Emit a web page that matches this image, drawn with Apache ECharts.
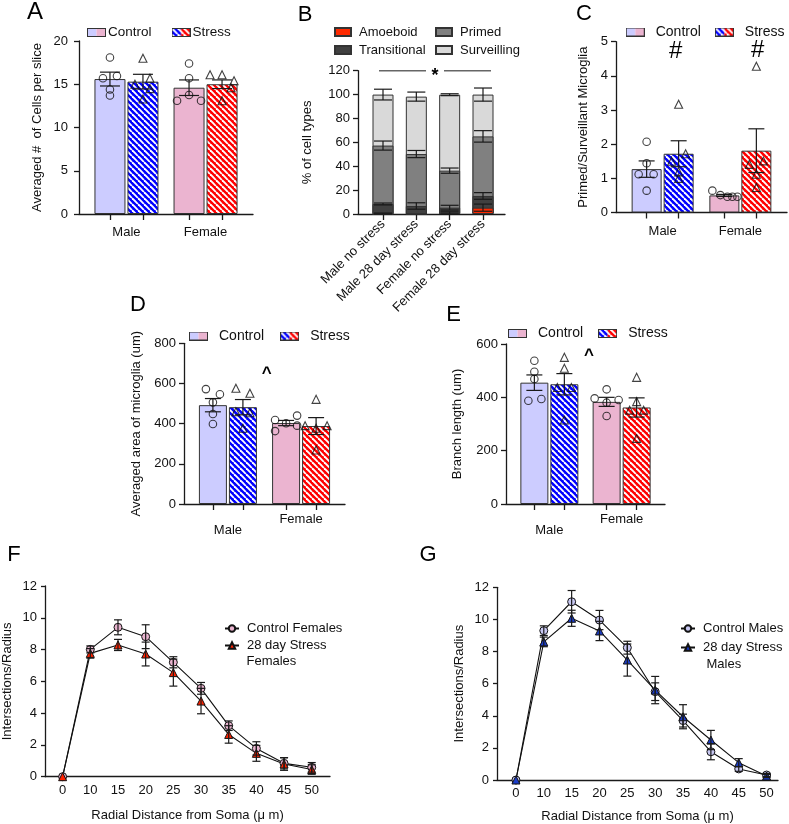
<!DOCTYPE html>
<html><head><meta charset="utf-8">
<script src="https://cdn.jsdelivr.net/npm/echarts@6/dist/echarts.min.js"></script>
<style>html,body{margin:0;padding:0;background:#fff}#c{width:789px;height:824px}</style>
</head><body><div id="c"></div>
<script>
// ================= DATA =================
const groups = ['Male', 'Female'];
// Panel A – Averaged # of cells per slice
const aCtrlMean = [15.6, 14.6];
const aStrMean = [15.3, 15.0];
const aCtrlSem = [0.8, 0.9];
const aStrSem = [0.85, 0.5];
const aCtrlPts = [[18.1, 15.7, 15.95, 14.4, 13.7], [17.4, 15.7, 13.75, 13.1, 13.1]];
const aStrPts = [[18.0, 15.0, 15.7, 14.5, 13.3], [16.1, 16.1, 15.4, 14.6, 13.1]];
// Panel B – % of cell types
const bCats = ['Male no stress', 'Male 28 day stress', 'Female no stress', 'Female 28 day stress'];
const bAmoeboid = [0, 0, 0.8, 5.3];
const bTransitional = [8.4, 6.7, 4.5, 9.8];
const bPrimed = [48.9, 43.5, 31.0, 49.9];
const bSurveilling = [42.7, 48.1, 63.6, 35.0];
const bAmoeboidSem = [0.8, 0, 1.0, 3.0];
const bTransitionalSem = [0.8, 2.7, 2.0, 2.8];
const bPrimedSem = [3.8, 3.0, 2.2, 4.8];
const bSurveillingSem = [4.5, 3.8, 0.8, 5.5];
const bSigLevel = 120;   // significance bar drawn at this % level
// Panel C – Primed/Surveillant
const cCtrlMean = [1.27, 0.5];
const cStrMean = [1.72, 1.81];
const cCtrlSem = [0.24, 0.03];
const cStrSem = [0.38, 0.64];
const cCtrlPts = [[2.07, 1.44, 1.12, 1.12, 0.64], [0.64, 0.51, 0.46, 0.46, 0.46]];
const cStrPts = [[3.17, 1.72, 1.5, 1.19, 1.0], [4.28, 1.41, 1.51, 1.12, 0.73]];
// Panel D – Averaged area of microglia
const dCtrlMean = [492, 403];
const dStrMean = [482, 388];
const dCtrlSem = [33, 13];
const dStrSem = [38, 42];
const dCtrlPts = [[572, 546, 506, 448, 398], [418, 402, 440, 390, 363]];
const dStrPts = [[576, 551, 459, 454, 377], [521, 390, 377, 390, 269]];
// Panel E – Branch length
const eCtrlMean = [455, 383];
const eStrMean = [449, 362];
const eCtrlSem = [29, 17];
const eStrSem = [40, 36];
const eCtrlPts = [[537, 496, 469, 387, 394], [430, 396, 390, 380, 330]];
const eStrPts = [[550, 509, 437, 437, 315], [475, 384, 352, 352, 246]];
// Panels F & G – Sholl analysis
const radialTicks = ['0', '10', '15', '20', '25', '30', '35', '40', '45', '50'];
const fCtrl = [0, 8.01, 9.40, 8.81, 7.20, 5.56, 3.21, 1.78, 0.84, 0.59];
const fCtrlSem = [0, 0.22, 0.47, 0.75, 0.35, 0.37, 0.3, 0.42, 0.35, 0.3];
const fStr = [0, 7.76, 8.29, 7.72, 6.55, 4.76, 2.66, 1.47, 0.80, 0.45];
const fStrSem = [0, 0.3, 0.35, 0.75, 0.85, 0.8, 0.55, 0.5, 0.4, 0.3];
const gCtrl = [0, 9.3, 11.1, 9.96, 8.24, 5.5, 3.7, 1.76, 0.69, 0.31];
const gCtrlSem = [0, 0.3, 0.7, 0.6, 0.4, 0.55, 0.4, 0.5, 0.15, 0.1];
const gStr = [0, 8.6, 10.07, 9.28, 7.47, 5.6, 3.94, 2.49, 1.08, 0.25];
const gStrSem = [0, 0.3, 0.5, 0.6, 1.0, 0.85, 0.75, 0.6, 0.25, 0.1];

// ================= STYLE / LAYOUT =================
const FONT = '"Liberation Sans", Arial, Helvetica, sans-serif';
const INK = '#1a1a1a';
const LAV = '#ccccff', PINK = '#ebb4d0', BLUE = '#0000ff', RED = '#ff0000';
const TXT = { color: '#111', fontFamily: FONT, fontSize: 13 };

function stripeTile(color) {
  const c = document.createElement('canvas'); c.width = 6; c.height = 6;
  const g = c.getContext('2d'); g.fillStyle = color; g.fillRect(0, 0, 6, 6);
  g.strokeStyle = '#fff'; g.lineWidth = 1.9;
  for (const k of [-6, 0, 6]) { g.beginPath(); g.moveTo(k, 0); g.lineTo(k + 6, 6); g.stroke(); }
  return c;
}
const blueTile = stripeTile(BLUE), redTile = stripeTile(RED);
function swatch(left, right) {
  const c = document.createElement('canvas'); c.width = 19; c.height = 9;
  const g = c.getContext('2d');
  const fill = f => (typeof f === 'string' ? f : g.createPattern(f, 'repeat'));
  g.fillStyle = fill(left); g.fillRect(0, 0, 9.5, 9);
  g.fillStyle = fill(right); g.fillRect(9.5, 0, 9.5, 9);
  g.strokeStyle = '#333'; g.lineWidth = 1; g.strokeRect(0.5, 0.5, 18, 8);
  return 'image://' + c.toDataURL();
}
const ctrlIcon = swatch(LAV, PINK);
const strIcon = swatch(blueTile, redTile);

const option = {
  animation: false, backgroundColor: '#fff', textStyle: { fontFamily: FONT },
  grid: [], xAxis: [], yAxis: [], series: [], legend: [], graphic: []
};

function yAxisCfg(gi, max, interval, name, nameGap, margin, tickLen) {
  return {
    type: 'value', gridIndex: gi, min: 0, max: max, interval: interval,
    name: name, nameLocation: 'middle', nameGap: nameGap, nameTextStyle: TXT,
    axisLine: { show: true, onZero: false, lineStyle: { color: INK, width: 1.3 } },
    axisTick: { show: true, length: tickLen, lineStyle: { color: INK, width: 1.3 } },
    axisLabel: Object.assign({ margin: margin }, TXT),
    splitLine: { show: false }
  };
}

function errorSeries(gi, rows, capPx, z) {
  return {
    type: 'custom', xAxisIndex: gi, yAxisIndex: gi, z: z, silent: true, clip: false,
    data: rows.filter(r => r[2] > 0),
    renderItem(params, api) {
      const x = api.value(0), m = api.value(1), s = api.value(2);
      const pT = api.coord([x, m + s]), pB = api.coord([x, Math.max(m - s, 0)]);
      const h = capPx / 2, st = { stroke: INK, lineWidth: 1.2, fill: null };
      return { type: 'group', children: [
        { type: 'line', shape: { x1: pT[0], y1: pT[1], x2: pB[0], y2: pB[1] }, style: st },
        { type: 'line', shape: { x1: pT[0] - h, y1: pT[1], x2: pT[0] + h, y2: pT[1] }, style: st },
        { type: 'line', shape: { x1: pB[0] - h, y1: pB[1], x2: pB[0] + h, y2: pB[1] }, style: st }
      ] };
    }
  };
}

function addBarPanel(p) {
  const gi = option.grid.length;
  option.grid.push({ left: p.left, top: p.top, width: p.width, height: p.height });
  const xMin = -0.6, xMax = 1.6;
  const pxX = p.width / (xMax - xMin);
  const d = (p.barW + p.gap) / 2 / pxX;
  option.xAxis.push({
    type: 'value', gridIndex: gi, min: xMin, max: xMax, splitLine: { show: false },
    axisLine: { onZero: false, lineStyle: { color: INK, width: 1.3 } },
    axisTick: { show: true, customValues: [-d, d, 1 - d, 1 + d], length: 6, lineStyle: { color: INK, width: 1.3 } },
    axisLabel: Object.assign({
      customValues: [0, 1], margin: p.xMargin,
      formatter: v => (Math.round(v) === 0 && p.maleLow ? '{m|' + groups[0] + '}' : groups[Math.round(v)]),
      rich: { m: { lineHeight: 34, fontSize: 13, fontFamily: FONT, color: '#111' } }
    }, TXT)
  });
  option.yAxis.push(yAxisCfg(gi, p.yMax, p.yInterval, p.yName, p.nameGap, p.yMargin, 5));
  const border = { borderColor: '#333', borderWidth: 1 };
  option.series.push({
    type: 'bar', name: 'Control', xAxisIndex: gi, yAxisIndex: gi, barWidth: p.barW,
    barGap: (p.gap / p.barW * 100) + '%', z: 2, itemStyle: border,
    data: p.ctrlMean.map((v, i) => ({ value: [i, v], itemStyle: { color: i ? PINK : LAV } }))
  });
  option.series.push({
    type: 'bar', name: 'Stress', xAxisIndex: gi, yAxisIndex: gi, barWidth: p.barW,
    barGap: (p.gap / p.barW * 100) + '%', z: 2, itemStyle: border,
    data: p.strMean.map((v, i) => ({ value: [i, v], itemStyle: { color: { image: i ? redTile : blueTile, repeat: 'repeat' } } }))
  });
  const err = [];
  p.ctrlMean.forEach((v, i) => err.push([i - d, v, p.ctrlSem[i]]));
  p.strMean.forEach((v, i) => err.push([i + d, v, p.strSem[i]]));
  option.series.push(errorSeries(gi, err, p.cap, 4));
  const mk = (pts, jit, off, sym, size) => {
    const data = [];
    pts.forEach((arr, i) => arr.forEach((v, k) => data.push([i + off + jit[i][k] / pxX, v])));
    option.series.push({
      type: 'scatter', xAxisIndex: gi, yAxisIndex: gi, symbol: sym, symbolSize: size, z: 5, silent: true,
      itemStyle: { color: 'rgba(255,255,255,0)', borderColor: '#111', borderWidth: 1.1 }, data: data
    });
  };
  mk(p.ctrlPts, p.ctrlJit, -d, 'circle', 7.5);
  mk(p.strPts, p.strJit, d, 'triangle', 8);
  option.legend.push({
    left: p.legLeft, top: p.legTop, padding: 0, itemWidth: 19, itemHeight: 9, itemGap: p.legGap,
    selectedMode: false,
    textStyle: { color: '#111', fontFamily: FONT, fontSize: p.legFont, padding: [0, 0, 0, p.legPad] },
    data: [{ name: 'Control', icon: ctrlIcon }, { name: 'Stress', icon: strIcon }]
  });
}

// A
addBarPanel({ left: 79, top: 41, width: 174, height: 173, yMax: 20, yInterval: 5,
  yName: 'Averaged #  of Cells per slice', nameGap: 35, yMargin: 11, xMargin: 12,
  barW: 31, gap: 2, cap: 20,
  ctrlMean: aCtrlMean, strMean: aStrMean, ctrlSem: aCtrlSem, strSem: aStrSem,
  ctrlPts: aCtrlPts, strPts: aStrPts,
  ctrlJit: [[0, -7, 7, 0, 0], [0, 0, 0, -12, 12]], strJit: [[0, -8, 7, 7, 0], [-12, 0, 12, 9, 0]],
  legLeft: 87, legTop: 25.5, legGap: 20, legFont: 13.5, legPad: -3 });

// B (stacked: cumulative columns overlapped, drawn top segment first)
(function () {
  const gi = option.grid.length;
  const L = { left: 358, top: 70.7, width: 147, height: 143.3, xMin: -0.75, xMax: 3.66 };
  option.grid.push({ left: L.left, top: L.top, width: L.width, height: L.height });
  option.xAxis.push({
    type: 'value', gridIndex: gi, min: L.xMin, max: L.xMax, splitLine: { show: false },
    axisLine: { onZero: false, lineStyle: { color: INK, width: 1.3 } },
    axisTick: { show: true, customValues: [0, 1, 2, 3], length: 6, lineStyle: { color: INK, width: 1.3 } },
    axisLabel: Object.assign({ customValues: [0, 1, 2, 3], rotate: 45, margin: 8,
      formatter: v => bCats[Math.round(v)] }, TXT)
  });
  option.yAxis.push(yAxisCfg(gi, 120, 20, '% of cell types', 44, 8, 5));
  const segs = [
    ['Amoeboid', bAmoeboid, bAmoeboidSem, '#ff2a00'],
    ['Transitional', bTransitional, bTransitionalSem, '#404040'],
    ['Primed', bPrimed, bPrimedSem, '#808080'],
    ['Surveilling', bSurveilling, bSurveillingSem, '#d9d9d9']
  ];
  const cum = [0, 0, 0, 0];
  const err = [];
  const cumBySeg = segs.map(s => s[1].map((v, i) => { cum[i] += v; err.push([i, cum[i], s[2][i]]); return cum[i]; }));
  for (let si = segs.length - 1; si >= 0; si--) {
    const s = segs[si];
    option.series.push({
      type: 'bar', name: s[0], xAxisIndex: gi, yAxisIndex: gi, barWidth: 21, barGap: '-100%', z: 2,
      itemStyle: { color: s[3], borderColor: '#333', borderWidth: 1 },
      data: cumBySeg[si].map((v, i) => [i, v])
    });
  }
  option.series.push(errorSeries(gi, err, 18, 4));
  // significance bracket: two segments at bSigLevel, split around the "*"
  option.series.push({
    type: 'custom', xAxisIndex: gi, yAxisIndex: gi, z: 4, silent: true, clip: false,
    data: [[-0.12, bSigLevel, 1.29], [1.83, bSigLevel, 3.24]],
    renderItem(params, api) {
      const a = api.coord([api.value(0), api.value(1)]), b = api.coord([api.value(2), api.value(1)]);
      return { type: 'line', shape: { x1: a[0], y1: a[1], x2: b[0], y2: b[1] }, style: { stroke: '#666', lineWidth: 1.5 } };
    }
  });
  const lg = { padding: 0, orient: 'vertical', itemWidth: 16, itemHeight: 8, itemGap: 5, selectedMode: false,
    icon: 'rect', textStyle: { color: '#111', fontFamily: FONT, fontSize: 13, padding: [0, 0, 0, 3] } };
  option.legend.push(Object.assign({ left: 334, top: 25.5, data: ['Amoeboid', 'Transitional'] }, lg));
  option.legend.push(Object.assign({ left: 435, top: 25.5, data: ['Primed', 'Surveilling'] }, lg));
})();

// C
addBarPanel({ left: 616, top: 41.7, width: 171, height: 170.8, yMax: 5, yInterval: 1,
  yName: 'Primed/Surveillant Microglia', nameGap: 26, yMargin: 8, xMargin: 12,
  barW: 30, gap: 2, cap: 16,
  ctrlMean: cCtrlMean, strMean: cStrMean, ctrlSem: cCtrlSem, strSem: cStrSem,
  ctrlPts: cCtrlPts, strPts: cStrPts,
  ctrlJit: [[0, 0, -8, 7, 0], [-12, -4, 3, 8, 13]], strJit: [[0, 7, -7, 0, 0], [0, -7, 7, 0, 0]],
  legLeft: 625.7, legTop: 25, legGap: 14, legFont: 14, legPad: 6 });

// D
addBarPanel({ left: 184, top: 343.3, width: 161, height: 160.7, yMax: 800, yInterval: 200,
  yName: 'Averaged area of microglia (um)', nameGap: 41, yMargin: 8, xMargin: 9, maleLow: true,
  barW: 28, gap: 2, cap: 16,
  ctrlMean: dCtrlMean, strMean: dStrMean, ctrlSem: dCtrlSem, strSem: dStrSem,
  ctrlPts: dCtrlPts, strPts: dStrPts,
  ctrlJit: [[-7, 7, 0, 0, 0], [-11, 0, 11, 11, -11]], strJit: [[-7, 7, -7, 7, 0], [0, -11, 0, 11, 0]],
  legLeft: 189, legTop: 329, legGap: 16, legFont: 14, legPad: 6 });

// E
addBarPanel({ left: 506, top: 344, width: 159, height: 160, yMax: 600, yInterval: 200,
  yName: 'Branch length (um)', nameGap: 42, yMargin: 8, xMargin: 9, maleLow: true,
  barW: 28, gap: 2, cap: 16,
  ctrlMean: eCtrlMean, strMean: eStrMean, ctrlSem: eCtrlSem, strSem: eStrSem,
  ctrlPts: eCtrlPts, strPts: eStrPts,
  ctrlJit: [[0, 0, 0, -6, 7], [0, -12, 12, 0, 0]], strJit: [[0, 0, -7, 7, 0], [0, 0, -7, 7, 0]],
  legLeft: 508, legTop: 326.5, legGap: 15, legFont: 14, legPad: 6 });

// F & G line panels
function addLinePanel(p) {
  const gi = option.grid.length;
  option.grid.push({ left: p.left, top: p.top, width: p.width, height: p.height });
  option.xAxis.push({
    type: 'value', gridIndex: gi, min: p.xMin, max: p.xMax, splitLine: { show: false },
    name: 'Radial Distance from Soma (μ m)', nameLocation: 'middle', nameGap: p.xNameGap, nameTextStyle: TXT,
    axisLine: { onZero: false, lineStyle: { color: INK, width: 1.3 } }, axisTick: { show: false },
    axisLabel: Object.assign({ customValues: radialTicks.map((t, i) => i), margin: 7,
      formatter: v => radialTicks[Math.round(v)] }, TXT)
  });
  option.yAxis.push(yAxisCfg(gi, 12, 2, 'Intersections/Radius', 31, 8, 4));
  const line = (name, vals, sym, fill, size) => ({
    type: 'line', name: name, xAxisIndex: gi, yAxisIndex: gi, symbol: sym, symbolSize: size, z: 3,
    showAllSymbol: true, lineStyle: { color: '#111', width: 1.1 },
    itemStyle: { color: fill, borderColor: '#111', borderWidth: 1 },
    data: vals.map((v, i) => [i, v])
  });
  option.series.push(line(p.names[0], p.ctrl, 'circle', p.ctrlFill, 8));
  option.series.push(line(p.names[1], p.str, 'triangle', p.strFill, 8));
  option.series.push(errorSeries(gi, p.ctrl.map((v, i) => [i, v, p.ctrlSem[i]]), 8, 4));
  option.series.push(errorSeries(gi, p.str.map((v, i) => [i, v, p.strSem[i]]), 8, 4));
  option.legend.push({
    left: p.legLeft, top: p.legTop, orient: 'vertical', padding: 0, itemWidth: 14, itemHeight: 8,
    itemGap: p.legGap, selectedMode: false,
    textStyle: { color: '#111', fontFamily: FONT, fontSize: 13, padding: [0, 0, 0, 3] },
    data: p.names, formatter: n => (n === p.names[1] ? '28 day Stress' : n)
  });
  option.graphic.push({ type: 'text', x: p.wrapX, y: p.wrapY,
    style: { text: p.wrap, fontSize: 13, fontFamily: FONT, fill: '#111', align: 'left', verticalAlign: 'middle', textAlign: 'left', textVerticalAlign: 'middle' } });
}
addLinePanel({ left: 44, top: 586, width: 286, height: 190.7, xMin: -0.637, xMax: 9.66, xNameGap: 32,
  names: ['Control Females', '28 day Stress Females'], ctrl: fCtrl, ctrlSem: fCtrlSem, str: fStr, strSem: fStrSem,
  ctrlFill: '#e9b4cf', strFill: '#ff2200', legLeft: 224, legTop: 622, legGap: 4,
  wrap: 'Females', wrapX: 246.5, wrapY: 661 });
addLinePanel({ left: 497, top: 587.3, width: 281, height: 192.7, xMin: -0.68, xMax: 9.41, xNameGap: 30,
  names: ['Control Males', '28 day Stress Males'], ctrl: gCtrl, ctrlSem: gCtrlSem, str: gStr, strSem: gStrSem,
  ctrlFill: '#c8c8f2', strFill: '#1a3cc8', legLeft: 680, legTop: 622, legGap: 6,
  wrap: 'Males', wrapX: 706.5, wrapY: 664 });

// Panel letters and significance marks
const marks = [
  ['A', 35, 12.5, 24, 'normal'], ['B', 305, 14.5, 22, 'normal'], ['C', 584, 13.5, 22, 'normal'],
  ['D', 138, 304.5, 22, 'normal'], ['E', 453.5, 314.5, 22, 'normal'], ['F', 14, 555, 22, 'normal'],
  ['G', 428, 555, 22, 'normal'],
  ['#', 675.7, 51.7, 24, 'normal'], ['#', 757.7, 50, 24, 'normal'],
  ['^', 266.7, 373, 17, 'bold'], ['^', 589, 355.5, 17, 'bold'], ['*', 435, 76, 18, 'bold']
];
marks.forEach(m => option.graphic.push({ type: 'text', x: m[1], y: m[2], silent: true,
  style: { text: m[0], fontSize: m[3], fontWeight: m[4], fontFamily: FONT, fill: '#000',
    align: 'center', verticalAlign: 'middle', textAlign: 'center', textVerticalAlign: 'middle' } }));

const chart = echarts.init(document.getElementById('c'), null, { renderer: 'canvas' });
chart.setOption(option);
</script></body></html>
